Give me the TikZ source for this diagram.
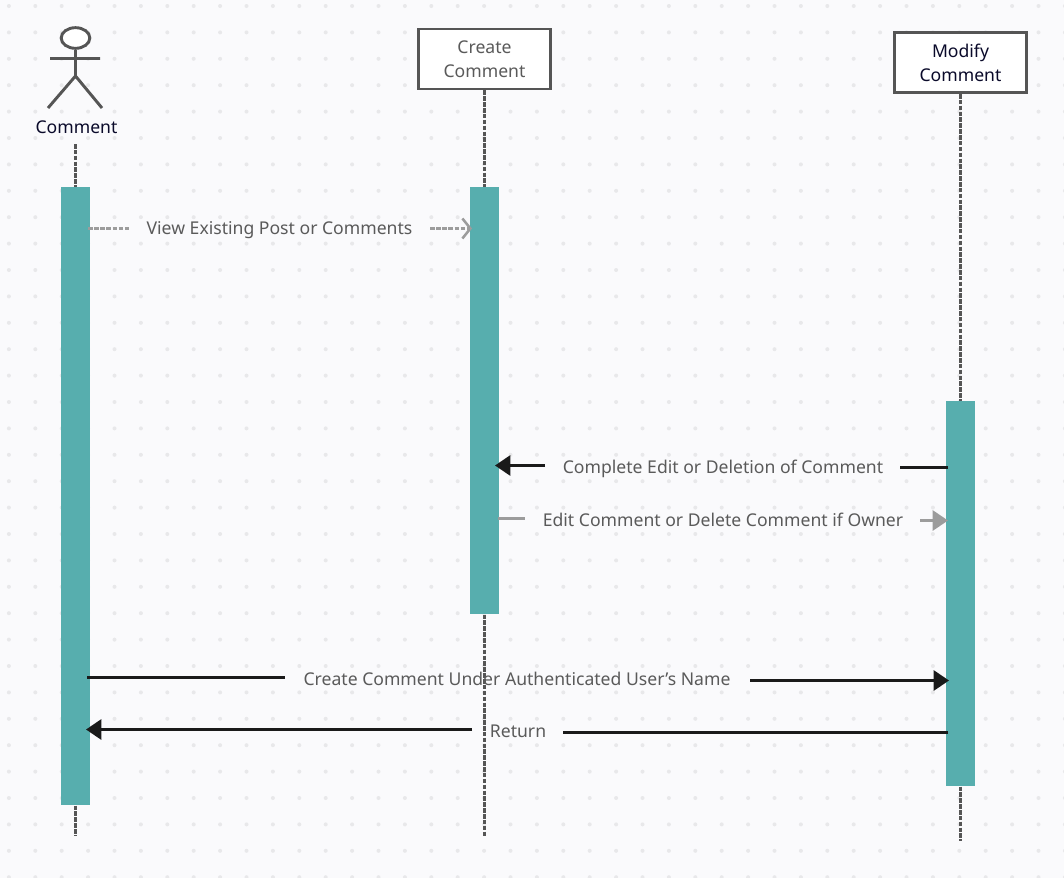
\documentclass[tikz,border=0pt]{standalone}
\usepackage{fontspec}
\setmainfont{Noto Sans}
\usetikzlibrary{arrows.meta,shapes.geometric}
\definecolor{pagebg}{HTML}{FAFAFC}
\definecolor{griddot}{HTML}{E8E8EA}
\definecolor{teal1}{HTML}{57AEAE}
\definecolor{ink}{HTML}{555555}
\definecolor{lbl}{HTML}{5A5A5A}
\definecolor{navy}{HTML}{0A0A2A}
\definecolor{blk}{HTML}{1A1A1A}
\definecolor{gry}{HTML}{9C9C9C}
\newcommand\dnline[1]{\raisebox{-0.75pt}{#1}}
\tikzset{
  pxx/.style={x=0.75pt,y=-0.75pt},
  headbox/.style={draw=ink,line width=2.2pt,fill=white,minimum width=99.5pt,minimum height=45pt,inner sep=0pt,align=center,text=lbl,font=\fontsize{13.2pt}{18pt}\selectfont},
  lifeline/.style={draw=ink,line width=2.2pt,dash pattern=on 3.4pt off 1pt},
  bar/.style={fill=teal1,draw=none,minimum width=21.75pt,inner sep=0pt,anchor=north},
  msg/.style={text=lbl,font=\fontsize{13.2pt}{16pt}\selectfont,inner ysep=0pt,inner xsep=0pt,text height=10pt,text depth=3pt},
  stick/.style={draw=ink,line width=2.2pt},
  solidmsg/.style={draw=blk,line width=2.2pt},
  greymsg/.style={draw=gry,line width=2.2pt},
  dashmsg/.style={draw=gry,line width=2.2pt,dash pattern=on 3.4pt off 1.2pt},
  fillhead/.style={-{Triangle[length=11.5pt,width=15pt]}},
  openhead/.style={-{Straight Barb[length=6pt,width=15pt,line width=1.9pt]}}
}
\begin{document}
\begin{tikzpicture}[pxx]
\useasboundingbox (0,0) rectangle (1064,878);
\fill[pagebg] (0,0) rectangle (1064,878);
\foreach \i in {0,...,40}{\foreach \j in {0,...,33}{
  \fill[griddot] ({8.9+26.4*\i},{6+26.4*\j}) circle (2);
}}
% lifeline free ends
\coordinate (cbot) at (75.5,836);
\coordinate (ctop) at (75.5,144);
\coordinate (rbot) at (484.5,837);
\coordinate (mbot) at (960.5,841);
% actor
\node[draw=ink,line width=2.2pt,fill=white,ellipse,minimum width=21.5pt,minimum height=15.5pt,inner sep=0pt] (head) at (75.5,38) {};
\coordinate (hip) at (75.5,76);
\coordinate (armL) at (50,58.5);
\coordinate (armR) at (100,58.5);
\coordinate (legL) at (48,108);
\coordinate (legR) at (102,108);
\draw[stick] (head.south) -- (hip) (armL) -- (armR) (legL) -- (hip) -- (legR);
\node[text=navy,font=\fontsize{13.2pt}{16pt}\selectfont,inner sep=0pt,text height=10pt,text depth=3pt] (actorlabel) at (76.5,128.5) {Comment};
% heads
\node[headbox] (create) at (484.5,59) {\dnline{Create}\\\dnline{Comment}};
\node[headbox,text=navy] (modify) at (960.5,62.5) {\dnline{Modify}\\\dnline{Comment}};
% activation bars
\node[bar,minimum height=463.5pt] (barC) at (75.5,187) {};
\node[bar,minimum height=320.25pt] (barR) at (484.5,187) {};
\node[bar,minimum height=288.75pt] (barM) at (960.5,401) {};
% lifelines
\draw[lifeline] (ctop) -- (barC.north);
\draw[lifeline] (barC.south) -- (cbot);
\draw[lifeline] (create.south) -- (barR.north);
\draw[lifeline] (barR.south) -- (rbot);
\draw[lifeline] (modify.south) -- (barM.north);
\draw[lifeline] (barM.south) -- (mbot);
% message labels
\node[msg] (m1) at (279.5,229.5) {View Existing Post or Comments};
\node[msg] (m2) at (723,468.5) {Complete Edit or Deletion of Comment};
\node[msg] (m3) at (723,521.5) {Edit Comment or Delete Comment if Owner};
\node[msg] (m4) at (517,681) {Create Comment Under Authenticated User’s Name};
\node[msg] (m5) at (518,733) {Return};
% message ends
\coordinate (m1a) at (88,228.5);   \coordinate (m1b) at (130,228.5);
\coordinate (m1c) at (430,228.5);  \coordinate (m1d) at (472,228.5);
\coordinate (m2a) at (948,467.5);  \coordinate (m2b) at (900,467.5);
\coordinate (m2c) at (545,465.5);\coordinate (m2d) at (495,465.5);
\coordinate (m3a) at (498,518.5);\coordinate (m3b) at (525,518.5);
\coordinate (m3c) at (920,520.5);  \coordinate (m3d) at (948,520.5);
\coordinate (m4a) at (87,677.5);   \coordinate (m4b) at (285,677.5);
\coordinate (m4c) at (750,680.5);  \coordinate (m4d) at (949,680.5);
\coordinate (m5a) at (948,732.5);\coordinate (m5b) at (563,732.5);
\coordinate (m5c) at (472,729.5);  \coordinate (m5d) at (86,729.5);
% messages
\draw[dashmsg] (m1a) -- (m1b);
\draw[dashmsg,openhead] (m1c) -- (m1d);
\draw[solidmsg] (m2a) -- (m2b);
\draw[solidmsg,fillhead] (m2c) -- (m2d);
\draw[greymsg] (m3a) -- (m3b);
\draw[greymsg,fillhead] (m3c) -- (m3d);
\draw[solidmsg] (m4a) -- (m4b);
\draw[solidmsg,fillhead] (m4c) -- (m4d);
\draw[solidmsg] (m5a) -- (m5b);
\draw[solidmsg,fillhead] (m5c) -- (m5d);
\end{tikzpicture}
\end{document}
